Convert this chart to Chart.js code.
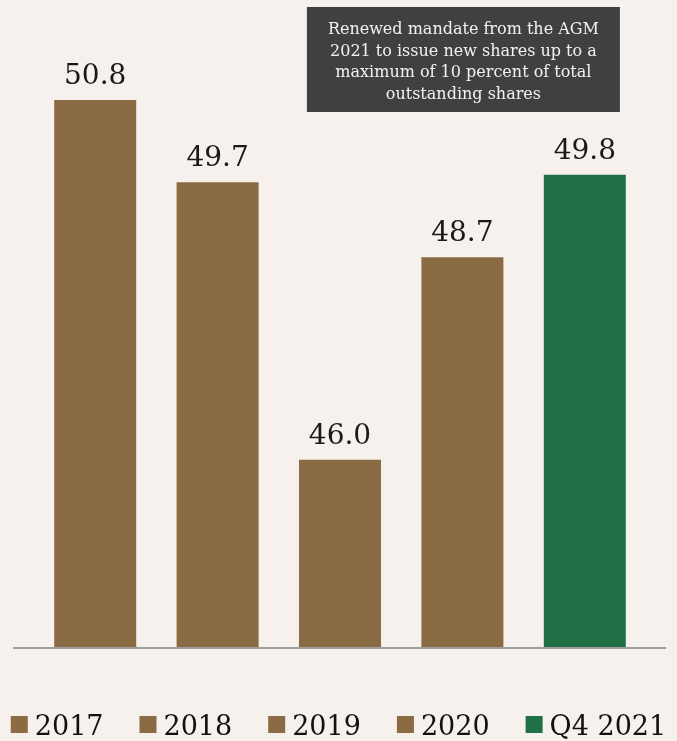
<!DOCTYPE html>
<html>
<head>
<meta charset="utf-8">
<script src="https://cdn.jsdelivr.net/npm/chart.js@4"></script>
<style>
  html, body { margin: 0; padding: 0; background: #f6f1ec; }
  #wrap { width: 677px; height: 741px; }
</style>
</head>
<body>
<div id="wrap"><canvas id="chart" width="677" height="741"></canvas></div>
<script>
// values
var labels = ['2017', '2018', '2019', '2020', 'Q4 2021'];
var values = [50.8, 49.7, 46.0, 48.7, 49.8];
var barColors = ['#8b6b43', '#8b6b43', '#8b6b43', '#8b6b43', '#1f7047'];
var noteLines = [
    'Renewed mandate from the AGM',
    '2021 to issue new shares up to a',
    'maximum of 10 percent of total',
    'outstanding shares'
];

var serif = "'DejaVu Serif', Georgia, serif";

// numbers above each bar
var valueLabels = {
    id: 'valueLabels',
    afterDatasetsDraw: function(chart) {
        var ctx = chart.ctx;
        var meta = chart.getDatasetMeta(0);
        ctx.save();
        ctx.font = '28px ' + serif;
        ctx.fillStyle = '#1a1a1a';
        ctx.textAlign = 'center';
        ctx.textBaseline = 'alphabetic';
        meta.data.forEach(function(bar, i) {
            ctx.fillText(values[i].toFixed(1), bar.x, bar.y - 16);
        });
        ctx.restore();
    }
};

// baseline, runs a bit past the bars on both sides
var baseLine = {
    id: 'baseLine',
    afterDatasetsDraw: function(chart) {
        var ctx = chart.ctx;
        var area = chart.chartArea;
        ctx.save();
        ctx.strokeStyle = '#9e9e9e';
        ctx.lineWidth = 2;
        ctx.beginPath();
        ctx.moveTo(area.left - 21, area.bottom + 1);
        ctx.lineTo(area.right + 20, area.bottom + 1);
        ctx.stroke();
        ctx.restore();
    }
};

// dark note box over the 2020 bar
var noteBox = {
    id: 'noteBox',
    afterDraw: function(chart) {
        var ctx = chart.ctx;
        var cx = chart.scales.x.getPixelForValue(3) + 1;
        var top = chart.chartArea.top - 3;
        var w = 313, h = 105;
        ctx.save();
        ctx.fillStyle = '#404040';
        ctx.fillRect(cx - w / 2, top, w, h);
        ctx.fillStyle = '#f2f2f2';
        ctx.font = '16px ' + serif;
        ctx.textAlign = 'center';
        ctx.textBaseline = 'alphabetic';
        noteLines.forEach(function(line, i) {
            ctx.fillText(line, cx, top + 27 + i * 21.7);
        });
        ctx.restore();
    }
};

// legend row along the bottom
var bottomLegend = {
    id: 'bottomLegend',
    afterDraw: function(chart) {
        var ctx = chart.ctx;
        var box = 17, gap = 7, space = 36;
        ctx.save();
        ctx.font = '27px ' + serif;
        var widths = labels.map(function(t) { return ctx.measureText(t).width; });
        var total = 0;
        widths.forEach(function(w) { total += box + gap + w; });
        total += space * (labels.length - 1);
        var x = (chart.width - total) / 2;
        var y = chart.height - 6;
        ctx.textAlign = 'left';
        ctx.textBaseline = 'alphabetic';
        labels.forEach(function(t, i) {
            ctx.fillStyle = barColors[i];
            ctx.fillRect(x, y - 19, box, box);
            ctx.fillStyle = '#111111';
            ctx.fillText(t, x + box + gap, y);
            x += box + gap + widths[i] + space;
        });
        ctx.restore();
    }
};

var ctx = document.getElementById('chart').getContext('2d');
var chart = new Chart(ctx, {
    type: 'bar',
    data: {
        labels: labels,
        datasets: [{
            data: values,
            backgroundColor: barColors,
            borderWidth: 0,
            barPercentage: 0.67,
            categoryPercentage: 1
        }]
    },
    options: {
        responsive: false,
        animation: false,
        layout: { padding: { left: 34, right: 31, top: 10, bottom: 94 } },
        plugins: {
            legend: { display: false },
            tooltip: { enabled: false }
        },
        scales: {
            x: { display: false },
            y: { display: false, min: 43.5, max: 52 }
        }
    },
    plugins: [baseLine, valueLabels, noteBox, bottomLegend]
});
</script>
</body>
</html>
